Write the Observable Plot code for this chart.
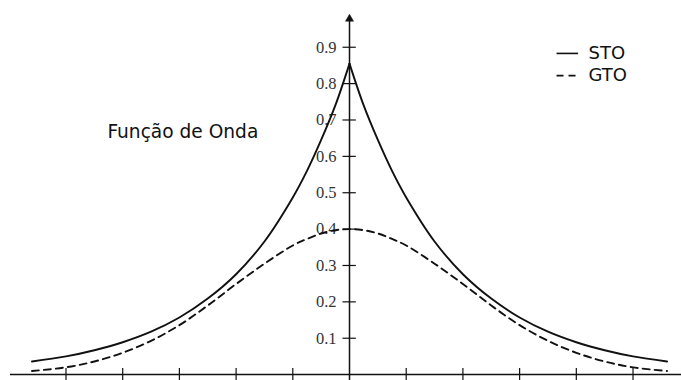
<!DOCTYPE html>
<html>
<head>
<meta charset="utf-8">
<script src="https://cdn.jsdelivr.net/npm/d3@7"></script>
<script src="https://cdn.jsdelivr.net/npm/@observablehq/plot@0.6"></script>
<style>
  html, body { margin: 0; padding: 0; background: #fff; }
  #chart svg { display: block; }
</style>
</head>
<body>
<div id="chart"></div>
<script>
// Radial positions (one unit per x tick) and the two wave functions
const radius = [0, 0.25, 0.5, 0.75, 1, 1.5, 2, 2.5, 3, 3.5, 4, 4.5, 5, 5.6];
const stoValues = [0.855, 0.740, 0.645, 0.560, 0.487, 0.366, 0.276, 0.209, 0.157, 0.118, 0.089, 0.067, 0.050, 0.036];
const gtoValues = [0.400, 0.397, 0.388, 0.373, 0.355, 0.305, 0.249, 0.190, 0.136, 0.093, 0.060, 0.036, 0.020, 0.010];

const xTicks = [-5, -4, -3, -2, -1, 1, 2, 3, 4, 5];
const yTicks = [0.1, 0.2, 0.3, 0.4, 0.5, 0.6, 0.7, 0.8, 0.9];
const yTickLabels = ["0.1", "0.2", "0.3", "0.4", "0.5", "0.6", "0.7", "0.8", "0.9"];

const legendNames = ["STO", "GTO"];
const titleText = "Função de Onda";

// STO has a cusp at the nucleus: draw each side as its own smooth branch
const sto = [];
radius.forEach((r, i) => {
  sto.push({x: -r, y: stoValues[i], side: "left"});
  sto.push({x: r, y: stoValues[i], side: "right"});
});
sto.sort((a, b) => a.x - b.x);

// GTO is smooth through the origin
const gto = [];
radius.forEach((r, i) => {
  if (r === 0) gto.push({x: 0, y: gtoValues[i]});
  else { gto.push({x: -r, y: gtoValues[i]}); gto.push({x: r, y: gtoValues[i]}); }
});
gto.sort((a, b) => a.x - b.x);

const ink = "#111";
const dash = "7,5";

const chart = Plot.plot({
  width: 681,
  height: 380,
  margin: 0,
  x: {domain: [-6.155, 5.855], axis: null},
  y: {domain: [-0.0162, 1.0285], axis: null},
  marks: [
    // axes
    Plot.ruleY([0], {x1: -5.98, x2: 5.86, stroke: ink, strokeWidth: 1.5}),
    Plot.ruleX([0], {y1: -0.0162, y2: 0.985, stroke: ink, strokeWidth: 1.5}),
    Plot.dot([{x: 0, y: 0.978}], {x: "x", y: "y", symbol: "triangle", r: 3, fill: ink, stroke: ink, strokeWidth: 0.5}),
    Plot.ruleX(xTicks, {y1: 0.0168, y2: -0.0162, stroke: ink, strokeWidth: 1.2}),
    Plot.ruleY(yTicks, {x1: -0.115, x2: 0.12, stroke: ink, strokeWidth: 1.2}),
    Plot.text(yTicks, {
      x: 0, y: d => d, text: (d, i) => yTickLabels[i],
      dx: -13, textAnchor: "end", fontFamily: "Liberation Serif, serif",
      fontSize: 16.5, fill: "#333"
    }),
    // curves
    Plot.line(sto, {x: "x", y: "y", z: "side", curve: "catmull-rom", stroke: ink, strokeWidth: 1.9}),
    Plot.line(gto, {x: "x", y: "y", curve: "catmull-rom", stroke: ink, strokeWidth: 1.9, strokeDasharray: dash}),
    // title
    Plot.text([titleText], {
      x: -4.27, y: 0.666, text: d => d, textAnchor: "start",
      fontFamily: "DejaVu Sans, sans-serif", fontSize: 18.6, fill: "#111"
    }),
    // legend
    Plot.ruleY([0.883], {x1: 3.66, x2: 4.04, stroke: ink, strokeWidth: 1.6}),
    Plot.ruleY([0.822], {x1: 3.66, x2: 4.04, stroke: ink, strokeWidth: 1.6, strokeDasharray: dash}),
    Plot.text(legendNames, {
      x: 4.215, y: (d, i) => [0.883, 0.822][i], text: d => d, textAnchor: "start",
      fontFamily: "DejaVu Sans, sans-serif", fontSize: 18, fill: "#111"
    })
  ]
});

document.getElementById("chart").appendChild(chart);
</script>
</body>
</html>
